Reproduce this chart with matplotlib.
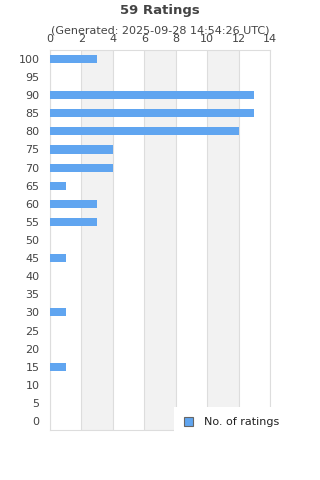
import matplotlib.pyplot as plt
from matplotlib.patches import Patch

# rating buckets (top to bottom) and number of ratings in each
ratings = [100, 95, 90, 85, 80, 75, 70, 65, 60, 55, 50, 45, 40, 35, 30, 25, 20, 15, 10, 5, 0]
counts = [3, 0, 13, 13, 12, 4, 4, 1, 3, 3, 0, 1, 0, 0, 1, 0, 0, 1, 0, 0, 0]
x_ticks = [0, 2, 4, 6, 8, 10, 12, 14]

bar_color = "#60a5f0"
text_color = "#444444"

fig = plt.figure(figsize=(3.2, 4.8), dpi=100)
ax = fig.add_axes([0.156, 0.104, 0.688, 0.792])

pos = list(range(len(ratings)))
ax.barh(pos, counts, height=0.45, color=bar_color, zorder=3)

# alternating bands
for i in range(len(x_ticks) - 1):
    if i % 2 == 1:
        ax.axvspan(x_ticks[i], x_ticks[i + 1], color="#f2f2f2", zorder=0, lw=0)
for x in x_ticks:
    ax.axvline(x, color="#dddddd", lw=0.8, zorder=1)

ax.set_xlim(0, 14)
ax.set_ylim(len(ratings) - 0.5, -0.5)
ax.set_yticks(pos)
ax.set_yticklabels([str(r) for r in ratings])
ax.set_xticks(x_ticks)
ax.xaxis.tick_top()
ax.tick_params(axis="both", length=0, labelsize=8, colors=text_color)
ax.tick_params(axis="y", pad=7.5)
ax.tick_params(axis="x", pad=4.5)
for s in ax.spines.values():
    s.set_color("#dddddd")
    s.set_linewidth(0.8)

fig.text(0.5, 0.978, "59 Ratings", ha="center", va="center",
         fontsize=9.5, fontweight="bold", color=text_color)
fig.text(0.5, 0.937, "(Generated: 2025-09-28 14:54:26 UTC)", ha="center",
         va="center", fontsize=8, color=text_color)

handle = Patch(facecolor=bar_color, edgecolor="#666666", linewidth=0.8)
leg = fig.legend([handle], ["No. of ratings"], loc="center left",
                 bbox_to_anchor=(0.527, 0.12), fontsize=8, frameon=True,
                 handlelength=0.8, handleheight=0.8, handletextpad=1.0,
                 borderpad=0.9, labelcolor="#222222")
leg.get_frame().set_facecolor("white")
leg.get_frame().set_edgecolor("none")
leg.get_frame().set_alpha(1)
leg.get_frame().set_boxstyle("square", pad=0)

fig.savefig("out.png", dpi=100)
